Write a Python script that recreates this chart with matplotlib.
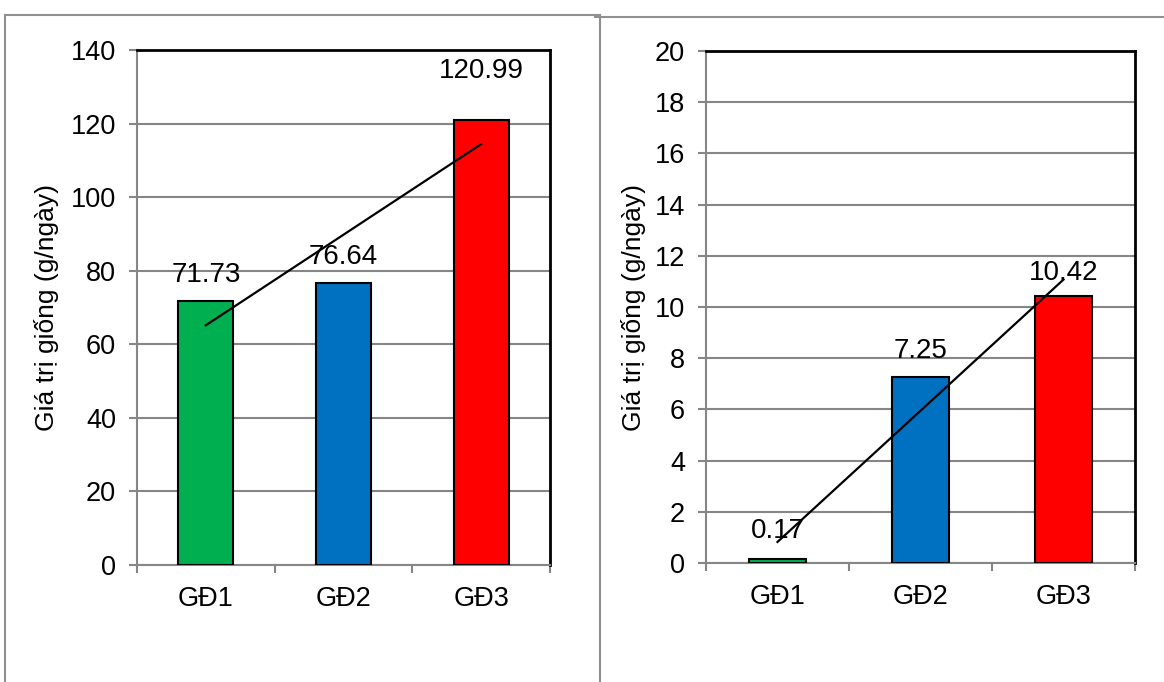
import matplotlib.pyplot as plt
import numpy as np
from matplotlib.lines import Line2D

plt.rcParams['font.family'] = ['Liberation Sans', 'DejaVu Sans']

# Giá trị giống theo giai đoạn
categories = ['GĐ1', 'GĐ2', 'GĐ3']
left_values = [71.73, 76.64, 120.99]
right_values = [0.17, 7.25, 10.42]
bar_colors = ['#00B050', '#0070C0', '#FF0000']
ylabel = 'Giá trị giống (g/ngày)'

GRAY = '#868686'


def draw_panel(ax, values, ymax, ystep, label_offsets):
    x = np.arange(len(values))
    ax.bar(x, values, 0.4, color=bar_colors, edgecolor='black', linewidth=1.5, zorder=3)

    # đường xu hướng tuyến tính
    k, b = np.polyfit(x, values, 1)
    ax.plot([x[0], x[-1]], [k * x[0] + b, k * x[-1] + b], color='black', lw=1.6, zorder=4)

    for xi, v, off in zip(x, values, label_offsets):
        ax.annotate(f'{v:.2f}', (xi, v), xytext=(0, off), textcoords='offset points',
                    ha='center', va='center', fontsize=20, zorder=5)

    ax.set_xlim(-0.5, len(values) - 0.5)
    ax.set_ylim(0, ymax)
    ax.set_yticks(np.arange(0, ymax + ystep / 2, ystep))
    ax.set_xticks(np.arange(-0.5, len(values), 1.0))
    ax.set_xticklabels([])
    ax.set_xticks(x, minor=True)
    ax.set_xticklabels(categories, minor=True)
    ax.tick_params(axis='x', which='minor', length=0, pad=15, labelsize=19.5)
    ax.tick_params(axis='x', which='major', length=6, color=GRAY, width=1.5)
    ax.tick_params(axis='y', length=6, color=GRAY, width=1.5, pad=9, labelsize=19.5)
    ax.yaxis.grid(True, color=GRAY, lw=1.5, zorder=0)
    ax.set_axisbelow(True)
    for side in ['left', 'bottom']:
        ax.spines[side].set_color(GRAY)
        ax.spines[side].set_linewidth(1.5)
    for side in ['top', 'right']:
        ax.spines[side].set_color('black')
        ax.spines[side].set_linewidth(2)
    ax.set_ylabel(ylabel, fontsize=19)


fig = plt.figure(figsize=(11.64, 6.82), dpi=100)
ax1 = fig.add_axes([0.1177, 0.1716, 0.3548, 0.7551])
ax2 = fig.add_axes([0.6065, 0.1745, 0.3686, 0.7507])

draw_panel(ax1, left_values, 140, 20, [19, 19, 35])
draw_panel(ax2, right_values, 20, 2, [20, 19, 17])
ax1.yaxis.set_label_coords(-0.19, 0.5)
ax2.yaxis.set_label_coords(-0.14, 0.5)

# khung viền hai biểu đồ
W, H = 1164, 682
def fx(px):
    return px / W
def fy(py):
    return 1 - py / H

for xs, ys in [([5, 5], [15, 700]), ([5, 600], [15, 15]), ([600, 600], [15, 700]),
               ([595, 1170], [17, 17])]:
    fig.add_artist(Line2D([fx(v) for v in xs], [fy(v) for v in ys], color='#909090', lw=1.5))

fig.savefig('out.png', dpi=100)
